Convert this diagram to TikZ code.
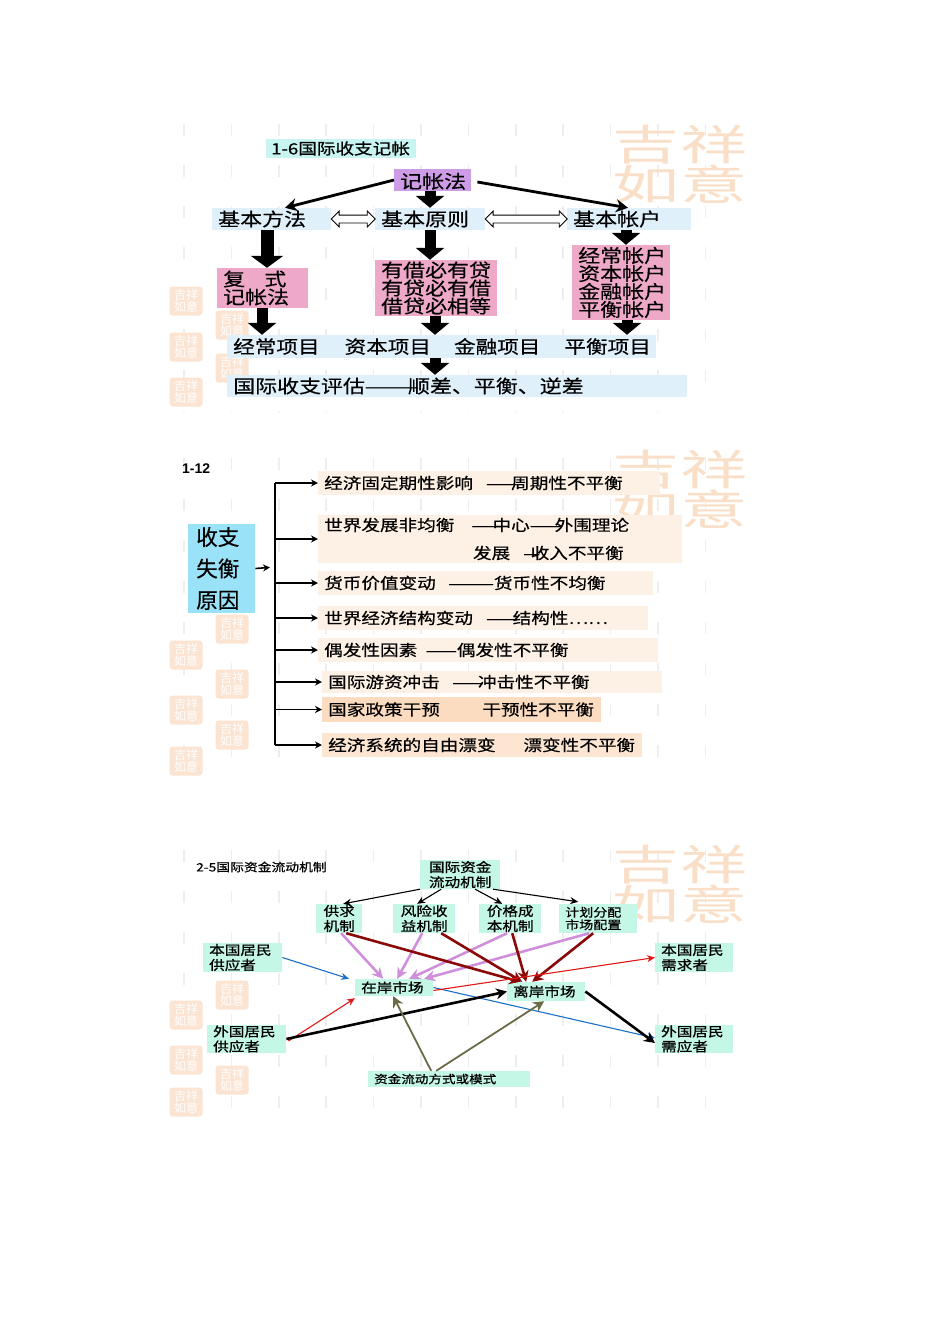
\documentclass[tikz,border=0pt]{standalone}
\usepackage{fontspec}
\setmainfont{Noto Sans CJK SC}
\newfontfamily\latinfont{Liberation Sans}
\newfontfamily\heavycjk[FakeBold=0.35]{Noto Sans CJK SC}
\newfontfamily\widecjk[FakeStretch=1.2,FakeBold=0.4]{Noto Sans CJK SC}
\newfontfamily\widebold[FakeStretch=1.2,FakeBold=0.7]{Noto Sans CJK SC}
\newcommand{\tightlines}{\lineskiplimit=-30pt\relax}
\usetikzlibrary{arrows.meta}
\usetikzlibrary{shapes.arrows}

\definecolor{skybg}{HTML}{DFF0FB}
\definecolor{cyanbg}{HTML}{C8F5F2}
\definecolor{purplebg}{HTML}{CE9CE6}
\definecolor{pinkbg}{HTML}{EEA8C8}
\definecolor{causebg}{HTML}{99E2F8}
\definecolor{peachbg}{HTML}{FDF0E4}
\definecolor{peachmid}{HTML}{FCE6D2}
\definecolor{peachdark}{HTML}{FBDCC0}
\definecolor{mintbg}{HTML}{C4F7E6}
\definecolor{markpeach}{HTML}{F9DFC8}
\definecolor{sealpeach}{HTML}{FBE4D2}
\definecolor{gridgrey}{HTML}{EEEEEE}
\definecolor{orchid}{HTML}{CF8FDB}
\definecolor{darkred}{HTML}{8A0A0A}
\definecolor{flowblue}{HTML}{1C6FC4}
\definecolor{flowred}{HTML}{E01818}
\definecolor{olive}{HTML}{6B6B48}

\tikzset{
  flowbox/.style={anchor=west,inner xsep=6pt,inner ysep=0pt,align=left},
  big/.style={font=\widecjk\fontsize{18.3}{18}\selectfont\tightlines},
  mid/.style={font=\widecjk\fontsize{15.5}{28}\selectfont\tightlines},
  small/.style={font=\widebold\fontsize{13}{15}\selectfont\tightlines},
  block/.style={line width=11pt,-{Triangle[length=12pt,width=28pt]}},
  biarrow/.style={double arrow,draw,fill=white,line width=.8pt,
    double arrow head extend=4pt,double arrow head indent=0pt,inner xsep=0pt,inner ysep=0pt},
  branch/.style={line width=1.6pt,-{Stealth[length=7pt,width=7pt]}},
  thin/.style={line width=1.1pt,-{Stealth[length=8pt,width=7pt]}},
  heavy/.style={line width=2.6pt,-{Stealth[length=11pt,width=11pt]}},
  griddash/.style={gridgrey,line width=1.6pt,dash pattern=on 12pt off 29pt},
  luckymark/.style={text=markpeach,align=center,transform shape,xscale=1.6,
    font=\fontsize{42}{40}\selectfont},
  tinyseal/.style={fill=sealpeach,rounded corners=3pt,minimum width=33pt,minimum height=29pt,
    inner sep=0pt,text=white,align=center,font=\fontsize{12}{12}\selectfont}
}

\begin{document}
\begin{tikzpicture}[x=1pt,y=-1pt]

  \useasboundingbox (0,0) rectangle (950,1344);

  \foreach \x in {0,...,11} {
    \draw [griddash] ({184+47.4*\x},124) -- ({184+47.4*\x},412);
    \draw [griddash] ({184+47.4*\x},458) -- ({184+47.4*\x},785);
    \draw [griddash] ({184+47.4*\x},850) -- ({184+47.4*\x},1120);
  }

  \node [luckymark] (mark_a) at (680,165) {吉祥\\如意};
  \node [luckymark] (mark_b) at (680,490) {吉祥\\如意};
  \node [luckymark] (mark_c) at (680,885) {吉祥\\如意};

  \foreach \x/\y [count=\i] in {186/301,232/325,186/347,232/368,186/392,
      232/629,186/655,232/684,186/710,232/735,186/761,
      232/995,186/1015,186/1060,232/1080,186/1102}
    \node [tinyseal] (seal_\i) at (\x,\y) {吉祥\\如意};

  % balance of payments bookkeeping
  \node [flowbox,fill=cyanbg,minimum height=19pt,font=\widebold\fontsize{15.5}{20}\selectfont,inner xsep=5pt,text width=140pt]
    (book_title) at (266,148.5) {1-6国际收支记帐};
  \node [flowbox,big,fill=purplebg,text width=65pt,minimum height=22pt] (method) at (394,180) {\hspace{2pt}记帐法};
  \node [flowbox,big,fill=skybg,text width=107pt,minimum height=22pt] (basic_way) at (212,219) {基本方法};
  \node [flowbox,big,fill=skybg,text width=98pt,minimum height=22pt] (basic_rule) at (375,219) {基本原则};
  \node [flowbox,big,fill=skybg,text width=112pt,minimum height=22pt] (basic_acct) at (567,219) {基本帐户};
  \node [flowbox,big,fill=pinkbg,text width=79pt,minimum height=40pt] (double_entry) at (217,288) {复\hspace{1.05em}式\\记帐法};
  \node [flowbox,big,fill=pinkbg,text width=110pt,minimum height=56pt] (rule_list) at (375,288) {有借必有贷\\有贷必有借\\借贷必相等};
  \node [flowbox,big,fill=pinkbg,text width=86pt,minimum height=75pt] (acct_list) at (572,282.5) {经常帐户\\资本帐户\\金融帐户\\平衡帐户};
  \node [flowbox,big,font=\widecjk\fontsize{18}{18}\selectfont,fill=skybg,text width=422pt,inner xsep=3.5pt,minimum height=23pt] (items) at (227,346.5)
    {\hspace{2.5pt}经常项目\hspace{25pt}资本项目\hspace{23pt}金融项目\hspace{24pt}平衡项目};
  \node [flowbox,big,fill=skybg,text width=448pt,minimum height=22pt] (assess) at (227,386) {国际收支评估———\hspace{-.6em}顺差、平衡、逆差};

  \path (basic_way.east) -- (basic_rule.west) node [biarrow,midway,minimum height=44pt] (way_rule) {\rule{0pt}{7pt}};
  \path (basic_rule.east) -- (basic_acct.west) node [biarrow,midway,minimum height=82pt] (rule_acct) {\rule{0pt}{7pt}};

  \draw [line width=2.8pt,-{Stealth[length=12pt,width=13pt]}] (method.west) -- (basic_way.north -| 285,0);
  \draw [line width=2.8pt,-{Stealth[length=12pt,width=13pt]}] ([xshift=6pt,yshift=-2pt]method.east) -- (basic_acct.north -| 628,0);
  \draw [block] (method.south -| 430,0) -- (basic_rule.north -| 430,0);
  \draw [block,line width=13pt,-{Triangle[length=12pt,width=32pt]}] (basic_way.south -| 267,0) -- (double_entry.north -| 267,0);
  \draw [block] (basic_rule.south -| 430,0) -- (rule_list.north -| 430,0);
  \draw [block] (basic_acct.south -| 626,0) -- (acct_list.north -| 626,0);
  \draw [block] (double_entry.south -| 262,0) -- (items.north -| 262,0);
  \draw [block] (rule_list.south -| 435,0) -- (items.north -| 435,0);
  \draw [block] (acct_list.south -| 627,0) -- (items.north -| 627,0);
  \draw [block] (items.south -| 435,0) -- (assess.north -| 435,0);

  % causes of imbalance
  \node [inner sep=0pt,anchor=west,font=\latinfont\bfseries\fontsize{14}{16}\selectfont] (causes_title) at (182,469) {1-12};
  \node [flowbox,fill=causebg,minimum height=89pt,font=\heavycjk\fontsize{21.6}{31.5}\selectfont,inner xsep=8pt,text width=51pt] (causes) at (188,568.5) {收支\\失衡\\原因};
  \coordinate (trunk) at (275,567);
  \node [flowbox,mid,fill=peachbg,text width=330pt,minimum height=24pt] (cycle) at (318,483) {经济固定期性影响\hspace{.85em}——\hspace{-.4em}周期性不平衡};
  \node [flowbox,mid,fill=peachbg,text width=352pt,minimum height=48pt] (uneven) at (318,539) {世界发展非均衡\hspace{1.1em}——\hspace{-.65em}中心——\hspace{-.4em}外围理论\\\hspace{9.6em}发展\hspace{.85em}—\hspace{-.6em}收入不平衡};
  \node [flowbox,mid,fill=peachbg,text width=323pt,minimum height=24pt] (currency) at (318,583) {货币价值变动\hspace{.8em}———货币性不均衡};
  \node [flowbox,mid,fill=peachbg,text width=318pt,minimum height=24pt] (structure) at (318,618) {世界经济结构变动\hspace{.85em}——\hspace{-.3em}结构性⋯⋯};
  \node [flowbox,mid,fill=peachbg,text width=328pt,minimum height=24pt] (accident) at (318,650) {偶发性因素\hspace{.55em}——偶发性不平衡};
  \node [flowbox,mid,fill=peachbg,text width=328pt,minimum height=22pt] (hotmoney) at (322,682) {国际游资冲击\hspace{.8em}——\hspace{-.35em}冲击性不平衡};
  \node [flowbox,mid,fill=peachdark,text width=267pt,minimum height=25pt] (policy) at (322,709.5) {国家政策干预\hspace{2.75em}干预性不平衡};
  \node [flowbox,mid,fill=peachmid,text width=308pt,minimum height=24pt] (drift) at (322,745) {经济系统的自由漂变\hspace{1.8em}漂变性不平衡};

  \draw [line width=1.8pt] (trunk |- cycle.west) -- (trunk |- drift.west);
  \draw [branch,shorten >=5pt] (causes.east) -- (trunk);
  \foreach \n in {cycle,uneven,currency,structure,accident,hotmoney,policy,drift}
    \draw [branch] (trunk |- \n.west) -- (\n.west);

  % capital flow mechanism
  \node [inner sep=0pt,anchor=west,font=\widebold\fontsize{11.5}{16}\selectfont] (flow_title) at (196,867) {2-5国际资金流动机制};
  \node [flowbox,small,align=center,fill=mintbg,text width=68pt,minimum height=29pt] (mech) at (420,874.5) {国际资金\\流动机制};
  \node [flowbox,small,align=center,fill=mintbg,text width=34pt,minimum height=29pt] (supply) at (316,918.5) {供求\\机制};
  \node [flowbox,small,align=center,fill=mintbg,text width=50pt,minimum height=29pt] (risk) at (393,918.5) {风险收\\益机制};
  \node [flowbox,small,align=center,fill=mintbg,text width=50pt,minimum height=29pt] (price) at (479,918.5) {价格成\\本机制};
  \node [flowbox,small,fill=mintbg,text width=66pt,minimum height=29pt,font=\widebold\fontsize{11.7}{12.5}\selectfont\tightlines] (plan) at (559,918.5) {计划分配\\市场配置};
  \node [flowbox,small,fill=mintbg,text width=67pt,minimum height=29pt] (dom_supply) at (203,957.5) {本国居民\\供应者};
  \node [flowbox,small,fill=mintbg,text width=67pt,minimum height=28pt] (for_supply) at (207,1039) {外国居民\\供应者};
  \node [flowbox,small,fill=mintbg,text width=66pt,minimum height=29pt] (dom_need) at (655,957.5) {本国居民\\需求者};
  \node [flowbox,small,fill=mintbg,text width=66pt,minimum height=28pt] (for_need) at (655,1039) {外国居民\\需应者};
  \node [flowbox,small,fill=mintbg,text width=66pt,minimum height=17pt] (onshore) at (355,987.5) {在岸市场};
  \node [flowbox,small,fill=mintbg,text width=66pt,minimum height=19pt] (offshore) at (507,991.5) {离岸市场};
  \node [flowbox,small,fill=mintbg,text width=150pt,minimum height=16pt,font=\widebold\fontsize{11.3}{15}\selectfont] (modes) at (368,1079) {资金流动方式或模式};

  \draw [thin] (mech.south west) -- ([xshift=4pt]supply.north);
  \draw [thin] ([xshift=-19pt]mech.south) -- ([xshift=-7pt]risk.north);
  \draw [thin] ([xshift=15pt]mech.south) -- ([xshift=-8pt]price.north);
  \draw [thin] ([xshift=33pt]mech.south) -- ([xshift=-20pt,yshift=2pt]plan.north);

  \draw [heavy,orchid] ([xshift=2pt]supply.south) -- ([xshift=-11pt]onshore.north);
  \draw [heavy,orchid] ([xshift=-2pt]risk.south) -- ([xshift=3pt]onshore.north);
  \draw [heavy,orchid] ([xshift=-3pt]price.south) -- ([xshift=15pt]onshore.north);
  \draw [heavy,orchid] ([xshift=-9pt]plan.south) -- ([xshift=30pt]onshore.north);

  \draw [heavy,darkred] ([xshift=7pt]supply.south) -- ([xshift=-26pt]offshore.north);
  \draw [heavy,darkred] ([xshift=17pt]risk.south) -- ([xshift=-24pt]offshore.north);
  \draw [heavy,darkred] ([xshift=2pt]price.south) -- ([xshift=-20pt]offshore.north);
  \draw [heavy,darkred] ([xshift=-5pt]plan.south) -- ([xshift=-14pt]offshore.north);

  \draw [thin,flowblue] (dom_supply.east) -- ([xshift=-6pt]onshore.north west);
  \draw [thin,flowblue] (onshore.east) -- ([yshift=1pt]for_need.west);
  \draw [thin,flowred] ([yshift=-3pt]onshore.east) -- (dom_need.west);
  \draw [thin,flowred] ([xshift=2pt,yshift=-2pt]for_supply.east) -- ([yshift=-2pt]onshore.south west);
  \draw [heavy,black] (for_supply.east) -- (offshore.west);
  \draw [heavy,black] (offshore.east) -- ([yshift=-4pt]for_need.west);
  \draw [heavy,line width=1.8pt,olive] ([xshift=-18pt]modes.north) -- ([xshift=-1pt]onshore.south);
  \draw [heavy,line width=1.8pt,olive] ([xshift=-13pt]modes.north) -- ([xshift=-2pt]offshore.south);

\end{tikzpicture}
\end{document}
